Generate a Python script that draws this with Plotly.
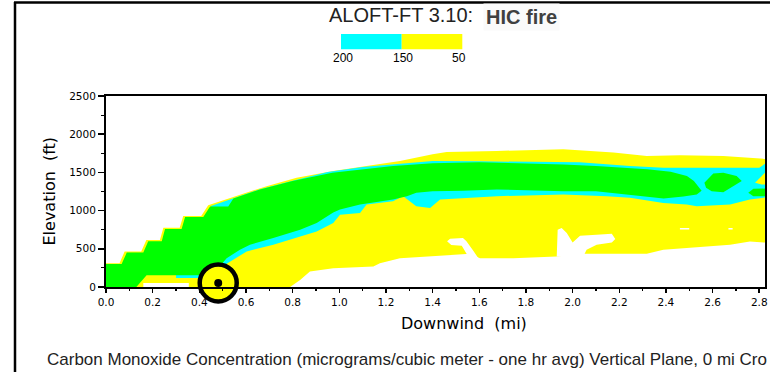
import plotly.graph_objects as go

# ---------------- data (downwind distance in mi, elevation in ft) ----------------
yellow_top_x = [0.0, 0.058, 0.080, 0.151, 0.173, 0.231, 0.246, 0.316, 0.331, 0.408, 0.438, 0.574, 0.688, 0.817, 0.974, 1.117, 1.26, 1.40, 1.46, 1.675, 1.96, 2.175, 2.318, 2.46, 2.646, 2.85]
yellow_top_y = [312, 312, 465, 465, 615, 615, 775, 775, 930, 930, 1070, 1211, 1320, 1430, 1518, 1583, 1649, 1737, 1768, 1781, 1803, 1759, 1715, 1724, 1715, 1671]
yellow_bot_x = [0.0, 0.789, 0.832, 0.874, 0.974, 1.146, 1.174, 1.26, 1.40, 1.56, 1.603, 1.746, 1.93, 2.046, 2.318, 2.389, 2.675, 2.76, 2.85]
yellow_bot_y = [0, 0, 92, 202, 246, 268, 311, 377, 399, 434, 377, 377, 399, 434, 434, 487, 553, 596, 575]

cyan_top_x = [0.45, 0.546, 0.66, 0.80, 0.95, 1.10, 1.23, 1.40, 1.60, 1.817, 2.03, 2.246, 2.389, 2.675, 2.80, 2.85]
cyan_top_y = [1060, 1165, 1280, 1392, 1505, 1570, 1605, 1649, 1645, 1641, 1632, 1583, 1562, 1562, 1562, 1665]
cyan_bot_x = [0.45, 0.474, 0.517, 0.603, 0.717, 0.832, 0.903, 0.974, 1.003, 1.089, 1.117, 1.23, 1.274, 1.33, 1.389, 1.432, 1.53, 1.675, 1.96, 2.146, 2.246, 2.389, 2.489, 2.532, 2.675, 2.76, 2.85]
cyan_bot_y = [200, 224, 311, 465, 553, 662, 728, 838, 947, 969, 1079, 1123, 1189, 1057, 1035, 1145, 1167, 1189, 1211, 1189, 1167, 1101, 1079, 1057, 1079, 1145, 1180]
cyan_strip_x = [0.30, 0.40, 0.42, 0.30]
cyan_strip_y = [118, 118, 160, 160]

green_top_x = [0.0, 0.067, 0.089, 0.16, 0.181, 0.239, 0.253, 0.324, 0.339, 0.417, 0.446, 0.524, 0.546, 0.66, 0.80, 0.97, 1.23, 1.40, 1.60, 1.96, 2.10, 2.24, 2.32, 2.42, 2.49, 2.52, 2.553]
green_top_y = [300, 300, 450, 450, 600, 600, 760, 760, 915, 915, 1055, 1055, 1160, 1276, 1386, 1496, 1583, 1620, 1632, 1605, 1583, 1560, 1540, 1510, 1452, 1386, 1260]
green_bot_x = [0.0, 0.13, 0.174, 0.40, 0.467, 0.474, 0.517, 0.574, 0.617, 0.717, 0.832, 0.903, 0.974, 1.003, 1.089, 1.23, 1.29, 1.33, 1.40, 1.53, 1.675, 1.96, 2.10, 2.246, 2.39, 2.475, 2.532, 2.553]
green_bot_y = [0, 0, 155, 155, 170, 224, 377, 487, 553, 641, 750, 838, 974, 1013, 1079, 1145, 1189, 1233, 1254, 1260, 1276, 1254, 1254, 1210, 1160, 1185, 1211, 1260]
green_blob_x = [2.565, 2.603, 2.646, 2.703, 2.725, 2.689, 2.646, 2.596, 2.572]
green_blob_y = [1364, 1487, 1496, 1452, 1386, 1320, 1241, 1254, 1298]
green_edge_x = [2.753, 2.775, 2.85, 2.85, 2.775]
green_edge_y = [1233, 1285, 1290, 1189, 1189]

yellow_wedge_x = [2.85, 2.817, 2.782, 2.81, 2.85]
yellow_wedge_y = [1562, 1474, 1364, 1342, 1342]

white_strip_x = [0.16, 0.355, 0.355, 0.16]
white_strip_y = [0, 0, 52, 52]
white_hole1_x = [1.462, 1.475, 1.53, 1.545, 1.575, 1.60, 1.56, 1.525, 1.48]
white_hole1_y = [600, 630, 641, 600, 470, 360, 360, 540, 550]
white_hole2_x = [1.932, 1.936, 1.953, 1.975, 2.0, 2.032, 2.103, 2.168, 2.183, 2.168, 2.103, 2.06, 2.046]
white_hole2_y = [400, 750, 772, 706, 583, 671, 684, 697, 627, 583, 553, 487, 400]
white_speck1_x = [2.46, 2.50, 2.50, 2.46]
white_speck1_y = [752, 752, 772, 772]
white_speck2_x = [2.668, 2.686, 2.686, 2.668]
white_speck2_y = [752, 752, 772, 772]

source_x = [0.481]
source_y = [53]

legend_labels = ["200", "150", "50"]
legend_colors = ["#00FFFF", "#FFFF00"]

GREEN, CYAN, YELLOW, WHITE = "#00FF00", "#00FFFF", "#FFFF00", "#FFFFFF"

# ---------------- figure ----------------
W, H = 770, 372
L, R, T, B = 106, 5, 96, 85
PW, PH = W - L - R, H - T - B

def pxx(p):
    return (p - L) / PW

def pxy(p):
    return (H - B - p) / PH

fig = go.Figure()

def poly(xs, ys, color):
    fig.add_trace(go.Scatter(x=xs, y=ys, fill="toself", fillcolor=color, mode="lines",
                             line=dict(width=0, color=color), hoverinfo="skip", showlegend=False))

def band(tx, ty, bx, by, color):
    poly(tx + bx[::-1], ty + by[::-1], color)

band(yellow_top_x, yellow_top_y, yellow_bot_x, yellow_bot_y, YELLOW)
band(cyan_top_x, cyan_top_y, cyan_bot_x, cyan_bot_y, CYAN)
poly(cyan_strip_x, cyan_strip_y, CYAN)
band(green_top_x, green_top_y, green_bot_x, green_bot_y, GREEN)
poly(green_blob_x, green_blob_y, GREEN)
poly(green_edge_x, green_edge_y, GREEN)
poly(yellow_wedge_x, yellow_wedge_y, YELLOW)
poly(white_strip_x, white_strip_y, WHITE)
poly(white_hole1_x, white_hole1_y, WHITE)
poly(white_hole2_x, white_hole2_y, WHITE)
poly(white_speck1_x, white_speck1_y, WHITE)
poly(white_speck2_x, white_speck2_y, WHITE)

# source marker
fig.add_trace(go.Scatter(x=source_x, y=source_y, mode="markers", cliponaxis=False,
                         marker=dict(size=37, color=YELLOW, line=dict(color="black", width=4.5)),
                         hoverinfo="skip", showlegend=False))
fig.add_trace(go.Scatter(x=source_x, y=source_y, mode="markers", cliponaxis=False,
                         marker=dict(size=8, color="black", line=dict(width=0)),
                         hoverinfo="skip", showlegend=False))

tickfont = dict(family="DejaVu Sans", size=10.5, color="black")
fig.update_xaxes(range=[0, PW / 233.3], tick0=0, dtick=0.2, tickformat=".1f",
                 ticks="outside", ticklen=4, tickwidth=1.5, tickcolor="black",
                 minor=dict(dtick=0.1, ticks="outside", ticklen=2, tickwidth=1.2, tickcolor="black"),
                 showline=True, linecolor="black", linewidth=2, mirror=True,
                 showgrid=False, zeroline=False, tickfont=tickfont, automargin=False)
fig.update_yaxes(range=[0, 2500], tick0=0, dtick=500,
                 ticks="outside", ticklen=6, tickwidth=1.5, tickcolor="black",
                 minor=dict(dtick=250, ticks="outside", ticklen=3, tickwidth=1.2, tickcolor="black"),
                 showline=True, linecolor="black", linewidth=2, mirror=True,
                 showgrid=False, zeroline=False, tickfont=tickfont, automargin=False)

ann = []
ann.append(dict(text="ALOFT-FT 3.10:", x=pxx(326.5), y=pxy(14.5), xanchor="left", yanchor="middle",
                font=dict(family="Liberation Sans", size=20, color="#222222")))
ann.append(dict(text="<b>HIC fire</b>", x=pxx(483), y=pxy(17), xanchor="left", yanchor="middle",
                bgcolor="#fafafa", borderpad=2,
                font=dict(family="Liberation Sans", size=20, color="#404040")))
for lab, cx in zip(legend_labels, [343, 402.5, 459]):
    ann.append(dict(text=lab, x=pxx(cx), y=pxy(58), xanchor="center", yanchor="middle",
                    font=dict(family="Liberation Sans", size=12, color="black")))
ann.append(dict(text="Elevation\u00a0\u00a0(ft)", x=pxx(49), y=0.5, xanchor="center", yanchor="middle",
                textangle=-90, font=dict(family="DejaVu Sans", size=16, color="black")))
ann.append(dict(text="Downwind\u00a0\u00a0(mi)", x=pxx(464), y=pxy(323.5), xanchor="center", yanchor="middle",
                font=dict(family="DejaVu Sans", size=16, color="black")))
ann.append(dict(text="Carbon Monoxide Concentration (micrograms/cubic meter - one hr avg) Vertical Plane, 0 mi Cro",
                x=pxx(45), y=pxy(359.5), xanchor="left", yanchor="middle",
                font=dict(family="Liberation Sans", size=17, color="#222222")))
for a in ann:
    a.update(xref="paper", yref="paper", showarrow=False)

shapes = []
# colour legend boxes
for (x0, x1), c in zip([(341, 401.7), (401.7, 462.3)], legend_colors):
    shapes.append(dict(type="rect", xref="paper", yref="paper", x0=pxx(x0), x1=pxx(x1),
                       y0=pxy(49.3), y1=pxy(34), fillcolor=c, line=dict(width=0), layer="above"))
# outer frame (left and top)
shapes.append(dict(type="line", xref="paper", yref="paper", x0=pxx(15), x1=pxx(15),
                   y0=pxy(2), y1=pxy(H + 2), line=dict(color="black", width=2.5)))
shapes.append(dict(type="line", xref="paper", yref="paper", x0=pxx(14), x1=pxx(W + 2),
                   y0=pxy(2.5), y1=pxy(2.5), line=dict(color="black", width=2.5)))

fig.update_layout(width=W, height=H, margin=dict(l=L, r=R, t=T, b=B),
                  paper_bgcolor="white", plot_bgcolor="white", showlegend=False,
                  annotations=ann, shapes=shapes)

fig.write_html("out.html", config={"displayModeBar": False, "staticPlot": True},
               post_script="document.body.style.margin='0';document.body.style.padding='0';"
                           "document.body.style.overflow='hidden';")
